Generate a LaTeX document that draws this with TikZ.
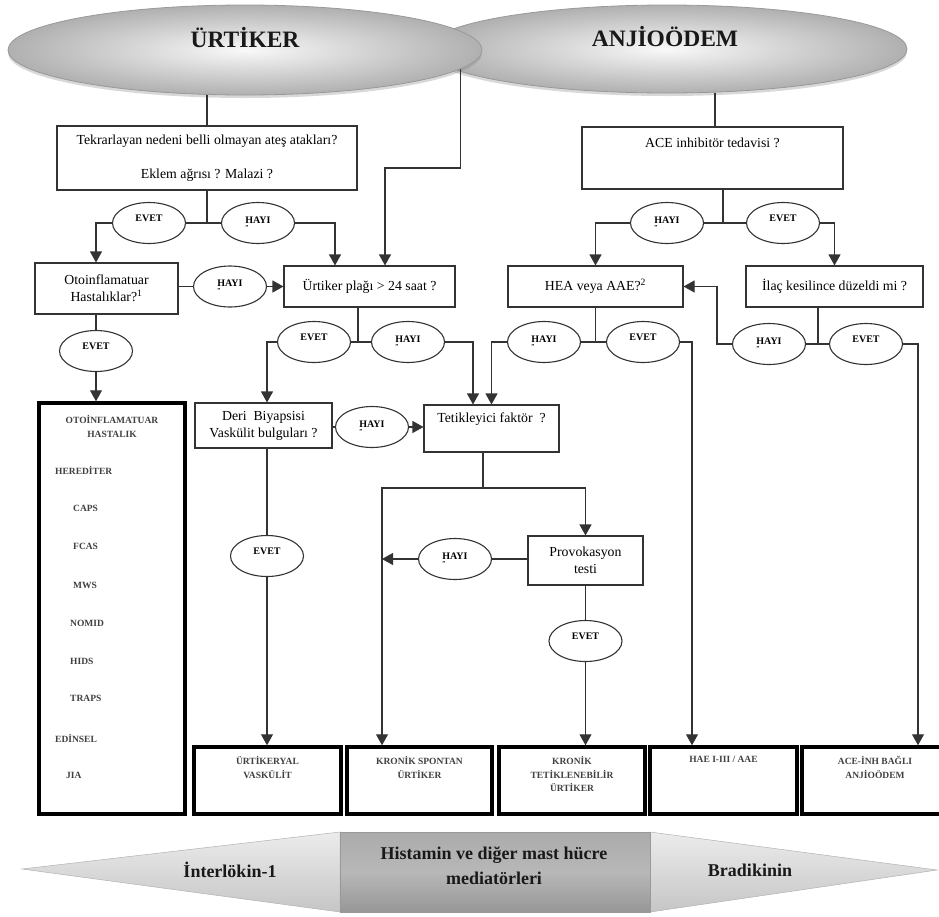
\documentclass[tikz,border=0pt]{standalone}
\usepackage{fontspec}
\setmainfont{Liberation Serif}
\usetikzlibrary{shapes.geometric,arrows.meta,shadows}

\newcommand\qfont{\fontsize{13.8}{17}\selectfont}
\newcommand\ynfont{\fontsize{10}{11}\selectfont\bfseries}
\newcommand\resfont{\fontsize{9.5}{13.5}\selectfont\bfseries}
\newcommand\ttlfont{\fontsize{23.5}{26}\selectfont\bfseries}
\newcommand\bnfont{\fontsize{18}{25}\selectfont\bfseries}
\newcommand\hayi{HAYI\\[-5pt]{\fontsize{6}{6}\selectfont ''}}

\tikzset{
  ln/.style={draw=black!80, line width=1.1pt},
  arr/.style={ln, -{Triangle[width=12pt,length=11pt]}},
  qbox/.style={rectangle, draw=black!80, line width=1.1pt, inner sep=0pt,
    align=center, font=\qfont, fill=white},
  qtext/.style={font=\qfont, inner sep=0pt, align=center},
  yn/.style={ellipse, draw=black!80, line width=1.1pt, minimum width=73pt,
    minimum height=41pt, inner sep=0pt, font=\ynfont, align=left, fill=white},
  evet/.style={yn, text depth=9pt},
  res/.style={rectangle, draw=black, line width=3.5pt, inner sep=0pt},
  restext/.style={font=\resfont, text=black!75, align=center, inner sep=0pt},
  item/.style={font=\resfont, text=black!75, inner sep=0pt, anchor=west},
  ttl/.style={ellipse, draw=black!40, line width=0.8pt,
    inner color=gray!5, outer color=gray!62,
    drop shadow={shadow xshift=0pt, shadow yshift=-3pt, opacity=0.3}},
  ttltext/.style={font=\ttlfont, inner sep=0pt, text=black!90},
  bntext/.style={font=\bnfont, inner sep=0pt, align=center, text=black!90},
}

\begin{document}
\begin{tikzpicture}[x=1pt, y=-1pt]
\useasboundingbox (0,0) rectangle (939,916);
\fill[white] (0,0) rectangle (939,916);

% ---- title ellipses ----
\node (an) [ttl, minimum width=480, minimum height=88] at (667,49) {};
\node (ur) [ttl, minimum width=474, minimum height=90] at (245,50) {};
\node (urt) [ttltext] at (245,38) {ÜRTİKER};
\node (ant) [ttltext] at (665,37) {ANJİOÖDEM};

% ---- question boxes ----
\node (q1) [qbox, minimum width=300, minimum height=64] at (207,158)
  {Tekrarlayan nedeni belli olmayan ateş atakları?\\[17pt]Eklem ağrısı ? Malazi ?};
\node (ace) [qbox, minimum width=261, minimum height=62] at (712.5,158) {};
\node (acet) [qtext] at ([yshift=-16]ace.north) {ACE inhibitör tedavisi ?};
\node (oto) [qbox, minimum width=143, minimum height=51] at (106.5,288.5)
  {Otoinflamatuar\\Hastalıklar?\textsuperscript{1}};
\node (up) [qbox, minimum width=171, minimum height=41] at (369.5,286.5)
  {Ürtiker plağı > 24 saat ?};
\node (hea) [qbox, minimum width=175, minimum height=41] at (595.5,286.5)
  {HEA veya AAE?\textsuperscript{2}};
\node (ilac) [qbox, minimum width=177, minimum height=41] at (834.5,286.5)
  {İlaç kesilince düzeldi mi ?};
\node (deri) [qbox, minimum width=137, minimum height=45] at (263.5,425.5)
  {Deri\enspace Biyapsisi\\Vaskülit bulguları ?};
\node (tet) [qbox, minimum width=135, minimum height=47] at (491.5,428.5) {};
\node (tett) [qtext] at ([yshift=-15]tet.north) {Tetikleyici faktör\enspace ?};
\node (prov) [qbox, minimum width=115, minimum height=49] at (585.5,560.5)
  {Provokasyon\\testi};

% ---- yes / no ellipses ----
\node (e1) [evet] at (149,223) {EVET};
\node (h1) [yn]   at (258,223) {\hayi};
\node (h2) [yn]   at (667,223) {\hayi};
\node (e2) [evet] at (783,223) {EVET};
\node (h3) [yn]   at (230,286.5) {\hayi};
\node (e3) [evet] at (96,351) {EVET};
\node (e4) [evet] at (314,342) {EVET};
\node (h4) [yn]   at (408,342) {\hayi};
\node (h5) [yn]   at (544,342) {\hayi};
\node (e5) [evet] at (643,342) {EVET};
\node (h6) [yn]   at (769,344) {\hayi};
\node (e6) [evet] at (866,344) {EVET};
\node (h7) [yn]   at (372,427) {\hayi};
\node (e7) [evet] at (267,556) {EVET};
\node (h8) [yn]   at (455,559) {\hayi};
\node (e8) [evet] at (585.5,641) {EVET};

% ---- result boxes ----
\node (ohb) [res, minimum width=146, minimum height=411] at (112,608.5) {};
\node (ohbt) [restext] at (112,426.5) {OTOİNFLAMATUAR\\HASTALIK};
\node (i1) [item] at (55,470) {HEREDİTER};
\node (i2) [item] at (73,508) {CAPS};
\node (i3) [item] at (73,546) {FCAS};
\node (i4) [item] at (73,585) {MWS};
\node (i5) [item] at (70,623) {NOMID};
\node (i6) [item] at (70,661) {HIDS};
\node (i7) [item] at (70,698) {TRAPS};
\node (i8) [item] at (55,738) {EDİNSEL};
\node (i9) [item] at (66,775) {JIA};

\node (uv)   [res, minimum width=147, minimum height=67] at (267.5,780.5) {};
\node (ks)   [res, minimum width=145, minimum height=67] at (419.5,780.5) {};
\node (kt)   [res, minimum width=146, minimum height=67] at (572,780.5) {};
\node (hae)  [res, minimum width=147, minimum height=67] at (723.5,780.5) {};
\node (acei) [res, minimum width=146, minimum height=67] at (875,780.5) {};
\node (uvt)   [restext, anchor=north] at ([yshift=-11]uv.north) {ÜRTİKERYAL\\VASKÜLİT};
\node (kst)   [restext, anchor=north] at ([yshift=-11]ks.north) {KRONİK SPONTAN\\ÜRTİKER};
\node (ktt)   [restext, anchor=north] at ([yshift=-11]kt.north) {KRONİK\\TETİKLENEBİLİR\\ÜRTİKER};
\node (haet)  [restext, anchor=north] at ([yshift=-11]hae.north) {HAE I-III / AAE};
\node (aceit) [restext, anchor=north] at ([yshift=-11]acei.north) {ACE-İNH BAĞLI\\ANJİOÖDEM};

% ---- connectors: urticaria side ----
\draw[ln] (q1.north) -- (q1.north |- ur.south);
\draw[ln] (q1.south) -- (q1.south |- e1);
\draw[ln] (e1.east) -- (h1.west);
\draw[arr] (e1.west) -| (oto.north -| e3);
\draw[arr] (h1.east) -| ([xshift=-34.5]up.north);
\coordinate (k1) at (385,168);
\draw[arr] (ur.-5.4) |- (k1) -- (k1 |- up.north);

\draw[ln] (oto.east |- h3) -- (h3.west);
\draw[arr] (h3.east) -- (up.west |- h3);
\draw[ln] (oto.south -| e3) -- (e3.north);
\draw[arr] (e3.south) -- (e3.south |- ohb.north);

\draw[ln] ([xshift=-11.5]up.south) -- ([xshift=-11.5]up.south |- e4);
\draw[ln] (e4.east) -- (h4.west);
\draw[arr] (e4.west) -| (deri.north -| e7);
\draw[arr] (h4.east) -| ([xshift=-18.5]tet.north);

% ---- connectors: angioedema side ----
\draw[ln] ([xshift=2.5]ace.north) -- ([xshift=2.5]ace.north |- an.south);
\draw[ln] ([xshift=10.5]ace.south) -- ([xshift=10.5]ace.south |- h2);
\draw[ln] (h2.east) -- (e2.west);
\draw[arr] (h2.west) -| (hea.north);
\draw[arr] (e2.east) -| (ilac.north);

\draw[ln] (hea.south) -- (hea.south |- h5);
\draw[ln] (h5.east) -- (e5.west);
\draw[arr] (h5.west) -| (tet.north);
\draw[arr] (e5.east) -| ([xshift=-31.5]hae.north);

\draw[ln] ([xshift=-16.5]ilac.south) -- ([xshift=-16.5]ilac.south |- h6);
\draw[ln] (h6.east) -- (e6.west);
\coordinate (k2) at (717,286.5);
\draw[arr] (h6.west) -| (k2) -- (hea.east);
\draw[arr] (e6.east) -| ([xshift=43]acei.north);

% ---- connectors: lower part ----
\draw[ln] (deri.east |- h7) -- (h7.west);
\draw[arr] (h7.east) -- (tet.west |- h7);
\draw[ln] (deri.south -| e7) -- (e7.north);
\draw[arr] (e7.south) -- (e7.south |- uv.north);

\coordinate (k3) at (483,488);
\coordinate (k4) at (382,488);
\draw[ln] (k3 |- tet.south) -- (k3);
\draw[arr] (k3) -| (prov.north);
\draw[arr] (k3) -- (k4) -- (k4 |- ks.north);
\draw[ln] (prov.west |- h8) -- (h8.east);
\draw[arr] (h8.west) -- (h8 -| k4);
\draw[ln] (prov.south) -- (e8.north);
\draw[arr] (e8.south) -- (e8.south |- kt.north);

% ---- mediator banner ----
\shade[top color=gray!15, bottom color=gray!45, draw=gray!60, line width=0.5pt]
  (22,869) -- (340,832) -- (340,912) -- cycle;
\shade[top color=gray!15, bottom color=gray!45, draw=gray!60, line width=0.5pt]
  (650,832) -- (937,870) -- (650,912) -- cycle;
\shade[top color=gray!66, bottom color=gray!82, middle color=gray!56,
  draw=gray!80, line width=0.5pt]
  (340,832) rectangle (650,912);
\node (il) [bntext] at (230,870) {İnterlökin-1};
\node (hm) [bntext] at (494,866) {Histamin ve diğer mast hücre\\mediatörleri};
\node (bk) [bntext] at (750,870) {Bradikinin};
\end{tikzpicture}
\end{document}
